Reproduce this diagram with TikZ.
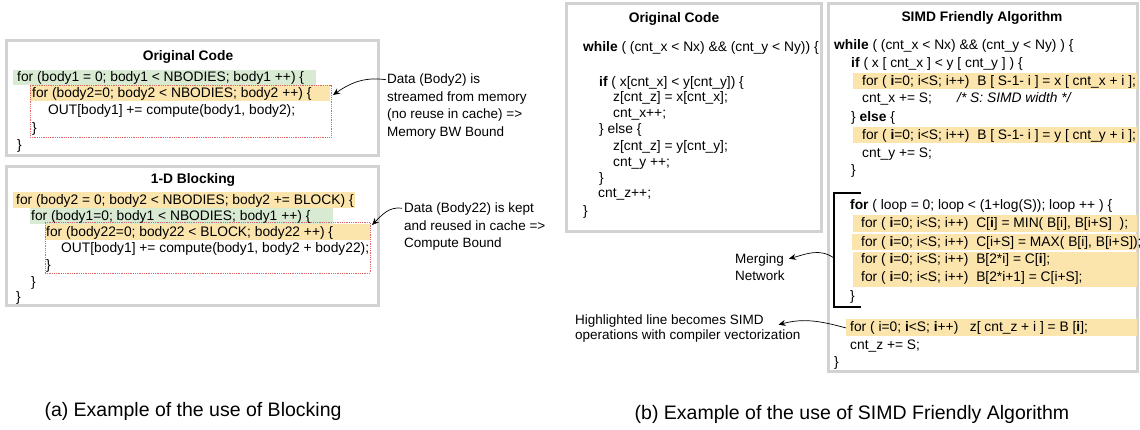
\documentclass[tikz,border=0pt]{standalone}
\usepackage{fontspec}
\setmainfont{Liberation Sans}
\usetikzlibrary{arrows.meta}
\definecolor{panelgray}{RGB}{210,210,210}
\definecolor{hlorange}{RGB}{252,229,172}
\definecolor{hlgreen}{RGB}{217,234,211}
\definecolor{dotred}{RGB}{224,102,102}
\newcommand{\codefont}{\fontsize{13.8}{17}\selectfont}
\newcommand{\bi}{\textbf{i}}

\begin{document}
\begin{tikzpicture}[x=1pt,y=-1pt,
  panel/.style={draw=panelgray, line width=3pt, inner sep=0pt, outer sep=0pt, anchor=north west},
  ttl/.style={font=\codefont\bfseries, inner sep=0pt, anchor=base},
  code/.style={font=\codefont, inner sep=0pt, anchor=base west},
  note/.style={font=\fontsize{13.5}{17.5}\selectfont, inner sep=0pt, anchor=north west, align=left},
  dotbox/.style={draw=dotred, densely dotted, line width=0.8pt, inner sep=0pt, outer sep=0pt, anchor=north west},
  arr/.style={-{Stealth[length=7pt,width=6pt]}, line width=0.7pt},
  captext/.style={font=\fontsize{19.5}{22}\selectfont, inner sep=0pt, anchor=base},
]
\useasboundingbox (0,0) rectangle (1140,429);
\fill[white] (0,0) rectangle (1140,429);

% ---------------- (a) left column ----------------
\node[panel, minimum width=372pt, minimum height=115pt] (pA) at (6.5,40.5) {};
\node[panel, minimum width=372pt, minimum height=139pt] (pB) at (6.5,166.5) {};

% highlights, box A
\fill[hlgreen]  (13,70) rectangle (316,85);
\fill[hlorange] (30,85) rectangle (330,101);
\node[dotbox, minimum width=301pt, minimum height=52pt] (redA) at (30,85) {};

\node[ttl] (tA) at (188,60) {Original Code};
\node[code] (a1) at (17,81.5)  {for (body1 = 0; body1 < NBODIES; body1 ++) \{};
\node[code] (a2) at (32,97.5)  {for (body2=0; body2 < NBODIES; body2 ++) \{};
\node[code] (a3) at (48,114.5) {OUT[body1] += compute(body1, body2);};
\node[code] (a4) at (32,132)   {\}};
\node[code] (a5) at (17,149)   {\}};

% highlights, box B
\fill[hlorange] (13,192) rectangle (355,208);
\fill[hlgreen]  (30,208) rectangle (333,224);
\fill[hlorange] (45,224) rectangle (370,240);
\node[dotbox, minimum width=325pt, minimum height=51pt] (redB) at (45,222) {};

\node[ttl] (tB) at (193,183) {1-D Blocking};
\node[code] (b1) at (16,204.5) {for (body2 = 0; body2 < NBODIES; body2 += BLOCK) \{};
\node[code] (b2) at (31,220.5) {for (body1=0; body1 < NBODIES; body1 ++) \{};
\node[code] (b3) at (46,236.5) {for (body22=0; body22 < BLOCK; body22 ++) \{};
\node[code] (b4) at (61,252.5) {OUT[body1] += compute(body1, body2 + body22);};
\node[code] (b5) at (46,269.5) {\}};
\node[code] (b6) at (31,286)   {\}};
\node[code] (b7) at (16,301.5) {\}};

% annotations
\node[note] (noteA) at (387,73.7) {Data (Body2) is\\streamed from memory\\(no reuse in cache) =>\\Memory BW Bound};
\node[note] (noteB) at (404,202.7) {Data (Body22) is kept\\and reused in cache =>\\Compute Bound};
\draw[arr] ([shift={(-1pt,-6pt)}]noteA.north west) to[out=172,in=35] ([shift={(2pt,-10pt)}]redA.north east);
\draw[arr] ([shift={(-2pt,-5.5pt)}]noteB.north west) to[out=172,in=45] ([shift={(2pt,-3pt)}]redB.north east);

\node[captext] (capA) at (193,416.5) {(a) Example of the use of Blocking};

% ---------------- (b) right column ----------------
\node[panel, minimum width=255pt, minimum height=228pt] (pC) at (566.5,3.5) {};
\node[panel, minimum width=308.5pt, minimum height=368pt] (pD) at (828.5,3.5) {};

\node[ttl] (tC) at (674,22) {Original Code};
\node[code] (c1)  at (583,51.5)  {\textbf{while} ( (cnt\_x < Nx) \&\& (cnt\_y < Ny)) \{};
\node[code] (c2)  at (599,86.5)  {\textbf{if} ( x[cnt\_x] < y[cnt\_y]) \{};
\node[code] (c3)  at (613,101.5) {z[cnt\_z] = x[cnt\_x];};
\node[code] (c4)  at (613,117.5) {cnt\_x++;};
\node[code] (c5)  at (599,133.5) {\} else \{};
\node[code] (c6)  at (613,150.5) {z[cnt\_z] = y[cnt\_y];};
\node[code] (c7)  at (613,166.5) {cnt\_y ++;};
\node[code] (c8)  at (599,182.5) {\}};
\node[code] (c9)  at (598,197.5) {cnt\_z++;};
\node[code] (c10) at (583,215.5) {\}};

% highlights, SIMD box
\fill[hlorange] (853,73) rectangle (1137,89);
\fill[hlorange] (853,127) rectangle (1137,143);
\fill[hlorange] (853,215) rectangle (1137,232);
\fill[hlorange] (852,234) rectangle (1137,250);
\fill[hlorange] (853,252) rectangle (1137,287);
\fill[hlorange] (846,319) rectangle (1137,336);

\node[ttl] (tD) at (982,21) {SIMD Friendly Algorithm};
\node[code] (d1)  at (834,49.5)  {\textbf{while} ( (cnt\_x < Nx) \&\& (cnt\_y < Ny) ) \{};
\node[code] (d2)  at (851,67.5)  {\textbf{if} ( x [ cnt\_x ] < y [ cnt\_y ] ) \{};
\node[code] (d3)  at (862,85.5)  {for ( \bi=0; i<S; i++)~~B [ S-1- i ] = x [ cnt\_x + i ];};
\node[code] (d4)  at (862,102.5) {cnt\_x += S;};
\node[code] (d4c) at (957,102.5) {\textit{/* S: SIMD width */}};
\node[code] (d5)  at (851,121.5) {\} \textbf{else} \{};
\node[code] (d6)  at (862,139.5) {for ( \bi=0; i<S; i++)~~B [ S-1- i ] = y [ cnt\_y + i ];};
\node[code] (d7)  at (862,157.5) {cnt\_y += S;};
\node[code] (d8)  at (851,174.5) {\}};

% merging network bracket
\draw[line width=2pt] (861,193) -- (834,193) -- (834,307) -- (861,307);
\coordinate (brk) at (834,258);
\node[code] (d9)  at (850,209.5) {\textbf{for} ( loop = 0; loop < (1+log(S)); loop ++ ) \{};
\node[code] (d10) at (861,227.5) {for ( \bi=0; i<S; i++)~~C[\bi] = MIN( B[i], B[i+S]~~);};
\node[code] (d11) at (861,246.5) {for ( \bi=0; i<S; i++)~~C[i+S] = MAX( B[i], B[i+S]);};
\node[code] (d12) at (861,263.5) {for ( \bi=0; i<S; i++)~~B[2*i] = C[\bi];};
\node[code] (d13) at (861,281.5) {for ( \bi=0; i<S; i++)~~B[2*i+1] = C[i+S];};
\node[code] (d14) at (850,300.5) {\}};
\node[code] (d15) at (850,331.5) {for ( i=0; \bi<S; \bi++)~~~z[ cnt\_z + i ] = B [\bi];};
\node[code] (d16) at (850,349.5) {cnt\_z += S;};
\node[code] (d17) at (834,366.5) {\}};

\node[note, font=\fontsize{13.5}{17}\selectfont] (merge) at (735,253.7) {Merging\\Network};
\draw[arr] (brk) to[out=145,in=15] ([shift={(4pt,-5pt)}]merge.north east);

\node[note, font=\fontsize{13.5}{15}\selectfont] (vecnote) at (575,314.7) {Highlighted line becomes SIMD\\operations with compiler vectorization};
\draw[arr] ([xshift=-4pt]d15.west) to[out=165,in=15] ([shift={(-22pt,-10pt)}]vecnote.north east);

\node[captext] (capB) at (852,419.5) {(b) Example of the use of SIMD Friendly Algorithm};
\end{tikzpicture}
\end{document}
